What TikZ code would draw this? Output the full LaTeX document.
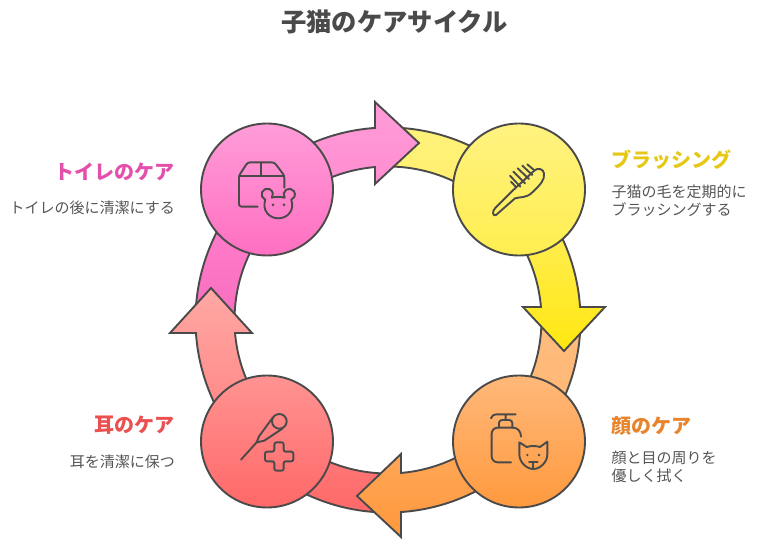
\documentclass[tikz,border=0pt]{standalone}
\usepackage{fontspec}
\setmainfont{Noto Sans CJK JP}
\definecolor{ink}{HTML}{4A4A4A}
\definecolor{desc}{HTML}{555555}
\definecolor{yband1}{HTML}{FFF27A}\definecolor{yband2}{HTML}{FFEF6E}
\definecolor{oband1}{HTML}{FFBE80}\definecolor{oband2}{HTML}{FFB673}
\definecolor{rband1}{HTML}{FF7878}\definecolor{rband2}{HTML}{FF6868}
\definecolor{pband1}{HTML}{FF7CCA}\definecolor{pband2}{HTML}{F76CBE}
\definecolor{parr1}{HTML}{FF9CD8}\definecolor{parr2}{HTML}{FF8ACF}
\definecolor{yarr1}{HTML}{FFEF68}\definecolor{yarr2}{HTML}{FFE70F}
\definecolor{oarr1}{HTML}{FFAD62}\definecolor{oarr2}{HTML}{FF983C}
\definecolor{rarr1}{HTML}{FFA8A4}\definecolor{rarr2}{HTML}{FF8080}
\definecolor{pc1}{HTML}{FF9CD8}\definecolor{pc2}{HTML}{FF6FC1}
\definecolor{yc1}{HTML}{FFF280}\definecolor{yc2}{HTML}{FFEE50}
\definecolor{oc1}{HTML}{FFB87A}\definecolor{oc2}{HTML}{FF9A3E}
\definecolor{rc1}{HTML}{FF9492}\definecolor{rc2}{HTML}{FF6868}
\definecolor{ty}{HTML}{E6C814}\definecolor{to}{HTML}{E8842C}
\definecolor{tr}{HTML}{E9504F}\definecolor{tp}{HTML}{E44FAB}
\newcommand{\ringband}[3]{%
  \draw[ringpiece,#3] ([shift={(#1:192.5)}]c) arc[start angle=#1,end angle=#2,radius=192.5]
    -- ([shift={(#2:153.5)}]c) arc[start angle=#2,end angle=#1,radius=153.5] -- cycle;}
\newcommand{\ringarrow}[7]{%
  \draw[ringpiece,#7] ([shift={(#1:192.5)}]c) arc[start angle=#1,end angle=#2,radius=192.5]
    -- (#4) -- (#5) -- (#6)
    -- ([shift={(#3:153.5)}]c) arc[start angle=#3,end angle=#1,radius=153.5] -- cycle;}
\tikzset{
  ringpiece/.style={draw=ink,line width=1.9pt,line join=miter,miter limit=10},
  stepcircle/.style={circle,draw=ink,line width=1.9pt,minimum size=132pt,inner sep=0pt},
  iconline/.style={draw=ink,line width=1.9pt,line cap=round,line join=round},
  heading/.style={inner sep=0pt,font=\fontsize{20}{23}\selectfont\bfseries},
  bodytext/.style={inner sep=0pt,text=desc,font=\fontsize{15}{18}\selectfont},
}
\begin{document}
\begin{tikzpicture}[x=1pt,y=-1pt]
\useasboundingbox (0,0) rectangle (780,556);
\coordinate (c) at (388,320);
% heads
\coordinate (ph1) at (375,102); \coordinate (pt) at (419,143); \coordinate (ph2) at (375,184);
\coordinate (yh1) at (605,307); \coordinate (yt) at (564,351); \coordinate (yh2) at (523,307);
\coordinate (oh1) at (401,537); \coordinate (ot) at (357,496); \coordinate (oh2) at (401,454);
\coordinate (rh1) at (170,333); \coordinate (rt) at (211,288); \coordinate (rh2) at (252,333);
% bands that run beneath the heads
\ringband{266}{305}{top color=yband1,bottom color=yband2}
\ringband{356}{390}{top color=oband1,bottom color=oband2}
\ringband{88}{118}{top color=rband1,bottom color=rband2}
\ringband{176.5}{210}{top color=pband1,bottom color=pband2}
% arrows
\ringarrow{230}{266.13}{265.14}{ph1}{pt}{ph2}{top color=parr1,bottom color=parr2}
\ringarrow{318}{356.13}{355.14}{yh1}{yt}{yh2}{top color=yarr1,bottom color=yarr2}
\ringarrow{40}{86.13}{85.14}{oh1}{ot}{oh2}{top color=oarr1,bottom color=oarr2}
\ringarrow{138}{176.13}{175.14}{rh1}{rt}{rh2}{top color=rarr1,bottom color=rarr2}
% circles
\node[stepcircle,top color=pc1,bottom color=pc2] (pink) at (267,189.5) {};
\node[stepcircle,top color=yc1,bottom color=yc2] (yellow) at (519,189.5) {};
\node[stepcircle,top color=oc1,bottom color=oc2] (orange) at (519,441.5) {};
\node[stepcircle,top color=rc1,bottom color=rc2] (red) at (267,441.5) {};
% pink icon
\begin{scope}[shift={(235,155)},x=1/3*1pt,y=-1/3*1pt]
\draw[iconline,rounded corners=2.5pt] (68,155) -- (12,155) -- (12,62) -- (38,22) -- (118,22) -- (148,62) -- (148,98);
\draw[iconline] (12,62) -- (148,62) (78,22) -- (78,62);
\draw[iconline] (91,134) arc[start angle=110,end angle=395,radius=17]
  .. controls (122,125) and (138,125) .. (149,128)
  arc[start angle=145,end angle=430,radius=17]
  .. controls (180,165) and (158,190) .. (130,190)
  .. controls (102,190) and (80,165) .. (91,134) -- cycle;
\fill[ink] (114,150) circle[radius=4.5] (147,150) circle[radius=4.5];
\end{scope}
% yellow icon
\begin{scope}[shift={(485,155)},x=1/3*1pt,y=-1/3*1pt]
\draw[iconline] (33,180) -- (90,130) .. controls (105,125) and (125,130) .. (142,112)
  .. controls (165,90) and (180,75) .. (177,55) .. controls (175,42) and (160,38) .. (150,45)
  -- (85,105) -- (30,160) .. controls (20,170) and (24,185) .. (33,180) -- cycle;
\draw[iconline] (78,80) -- (92,95) (75,62) -- (106,95) (85,50) -- (120,85) (98,40) -- (132,72) (112,32) -- (142,60) (127,28) -- (148,46);
\end{scope}
% orange icon
\begin{scope}[shift={(485,405)},x=1/3*1pt,y=-1/3*1pt]
\draw[iconline] (18,40) .. controls (20,32) and (26,28) .. (34,28) -- (92,28) (62,28) -- (62,45);
\draw[iconline,rounded corners=3pt] (42,68) -- (42,45) -- (82,45) -- (82,68);
\draw[iconline,rounded corners=6pt] (78,172) -- (20,172) -- (20,68) -- (85,68);
\draw[iconline] (85,68) .. controls (98,68) and (108,80) .. (108,95);
\draw[iconline] (103,112) -- (125,126) .. controls (138,122) and (152,122) .. (165,126) -- (187,110)
  -- (187,148) .. controls (187,172) and (165,192) .. (145,192) .. controls (125,192) and (103,172) .. (103,148) -- cycle;
\draw[iconline] (132,170) -- (158,170) (145,170) -- (145,190);
\fill[ink] (127,150) circle[radius=4] (162,150) circle[radius=4];
\end{scope}
% red icon
\begin{scope}[shift={(235,408)},x=1/3*1pt,y=-1/3*1pt]
\draw[iconline] (18,155) -- (65,103) -- (72,85) -- (114,28);
\draw[iconline] (65,103) -- (88,98) -- (142,62);
\draw[iconline] (133,40) circle[radius=22];
\draw[iconline,rounded corners=2pt] (118,103) -- (146,103) -- (146,131) -- (175,131) -- (175,160) -- (146,160) -- (146,188) -- (118,188) -- (118,160) -- (90,160) -- (90,131) -- (118,131) -- cycle;
\end{scope}
% texts
\node[inner sep=0pt,text=ink,font=\fontsize{25.3}{28}\selectfont\bfseries] (title) at (394.5,22) {子猫のケアサイクル};
\node[heading,anchor=west,text=ty] (t1) at (611.5,160) {ブラッシング};
\node[bodytext,anchor=north west,align=left] (b1) at (611.5,185) {子猫の毛を定期的に\\ブラッシングする};
\node[heading,anchor=west,text=to] (t2) at (611.5,425.5) {顔のケア};
\node[bodytext,anchor=north west,align=left] (b2) at (611.5,451) {顔と目の周りを\\優しく拭く};
\node[heading,anchor=east,text=tr] (t3) at (175,425.5) {耳のケア};
\node[bodytext,anchor=east] (b3) at (175,462) {耳を清潔に保つ};
\node[heading,anchor=east,text=tp] (t4) at (175,172) {トイレのケア};
\node[bodytext,anchor=east] (b4) at (175,208) {トイレの後に清潔にする};
\end{tikzpicture}
\end{document}
